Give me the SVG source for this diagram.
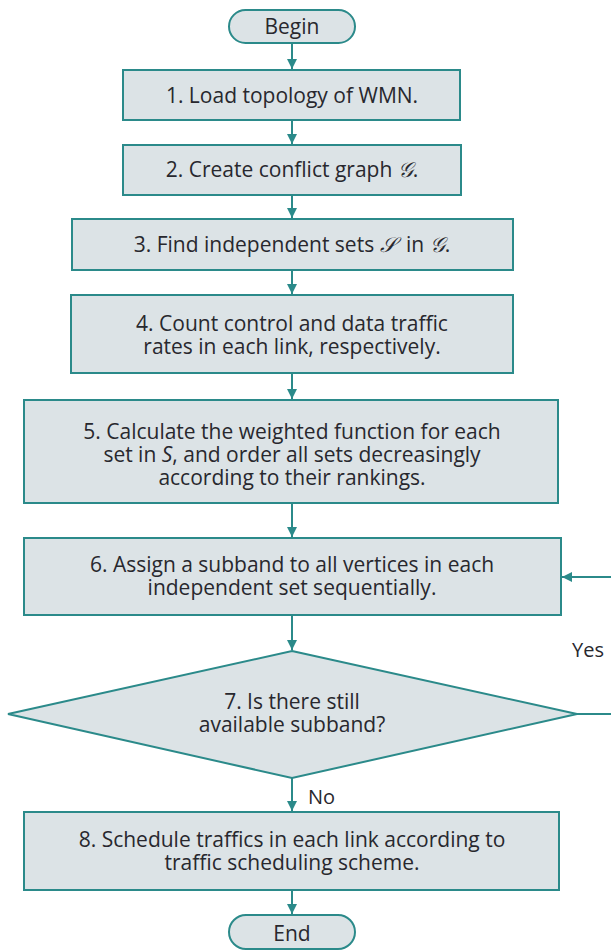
<svg xmlns="http://www.w3.org/2000/svg" width="611" height="951" viewBox="0 0 611 951">
<style>
.box{fill:#dce3e6;stroke:#2b8a8a;stroke-width:2}
.t{font-family:"Open Sans","Noto Sans",sans-serif;font-size:21px;fill:#28282e;text-anchor:middle}
.lbl{font-family:"Open Sans","Noto Sans",sans-serif;font-size:20px;fill:#28282e}
.c{fill:none;stroke:#2b8a8a;stroke-width:2}
.m{font-family:"DejaVu Serif","DejaVu Sans",serif;font-style:italic}
</style>
<defs>
<marker id="ah" viewBox="0 0 10 10" refX="10" refY="5" markerWidth="10" markerHeight="10" markerUnits="userSpaceOnUse" orient="auto">
<path d="M0,0 L10,5 L0,10 Z" fill="#2b8a8a"/>
</marker>
</defs>
<g id="connectors">
<line class="c" x1="292" y1="43" x2="292" y2="69" marker-end="url(#ah)"/>
<line class="c" x1="292" y1="120" x2="292" y2="144" marker-end="url(#ah)"/>
<line class="c" x1="292" y1="195" x2="292" y2="218" marker-end="url(#ah)"/>
<line class="c" x1="292" y1="270" x2="292" y2="294" marker-end="url(#ah)"/>
<line class="c" x1="292" y1="373" x2="292" y2="399" marker-end="url(#ah)"/>
<line class="c" x1="292" y1="503" x2="292" y2="537" marker-end="url(#ah)"/>
<line class="c" x1="292" y1="615" x2="292" y2="650" marker-end="url(#ah)"/>
<line class="c" x1="292" y1="778" x2="292" y2="811" marker-end="url(#ah)"/>
<line class="c" x1="292" y1="890" x2="292" y2="914" marker-end="url(#ah)"/>
<path class="c" d="M577,714 H625 V577 H562" marker-end="url(#ah)"/>
<text class="lbl" x="572" y="657">Yes</text>
<text class="lbl" x="308" y="804">No</text>
</g>
<g id="begin">
<rect class="box" x="229" y="10" width="126" height="33" rx="16.5"/>
<text class="t" x="292" y="34">Begin</text>
</g>
<g id="step1">
<rect class="box" x="123" y="70" width="337" height="50"/>
<text class="t" x="292" y="103">1. Load topology of WMN.</text>
</g>
<g id="step2">
<rect class="box" x="123" y="145" width="338" height="50"/>
<text class="t" x="292" y="177">2. Create conflict graph <tspan class="m">𝒢</tspan>.</text>
</g>
<g id="step3">
<rect class="box" x="72" y="219" width="441" height="51"/>
<text class="t" x="292" y="252">3. Find independent sets <tspan class="m">𝒮</tspan><tspan dx="5"> in </tspan><tspan class="m">𝒢</tspan>.</text>
</g>
<g id="step4">
<rect class="box" x="71" y="295" width="442" height="78"/>
<text class="t" x="292" y="331">4. Count control and data traffic</text>
<text class="t" x="292" y="354">rates in each link, respectively.</text>
</g>
<g id="step5">
<rect class="box" x="24" y="400" width="534" height="103"/>
<text class="t" x="292" y="439">5. Calculate the weighted function for each</text>
<text class="t" x="292" y="462">set in <tspan font-style="italic">S</tspan>, and order all sets decreasingly</text>
<text class="t" x="292" y="485">according to their rankings.</text>
</g>
<g id="step6">
<rect class="box" x="24" y="538" width="537" height="77"/>
<text class="t" x="292" y="572">6. Assign a subband to all vertices in each</text>
<text class="t" x="292" y="595">independent set sequentially.</text>
</g>
<g id="step7">
<polygon class="box" points="292,651 577,714 292,778 8,714"/>
<text class="t" x="292" y="709">7. Is there still</text>
<text class="t" x="292" y="732">available subband?</text>
</g>
<g id="step8">
<rect class="box" x="24" y="812" width="535" height="78"/>
<text class="t" x="292" y="847">8. Schedule traffics in each link according to</text>
<text class="t" x="292" y="870">traffic scheduling scheme.</text>
</g>
<g id="end">
<rect class="box" x="229" y="915" width="126" height="34" rx="17"/>
<text class="t" x="292" y="941">End</text>
</g>
</svg>
